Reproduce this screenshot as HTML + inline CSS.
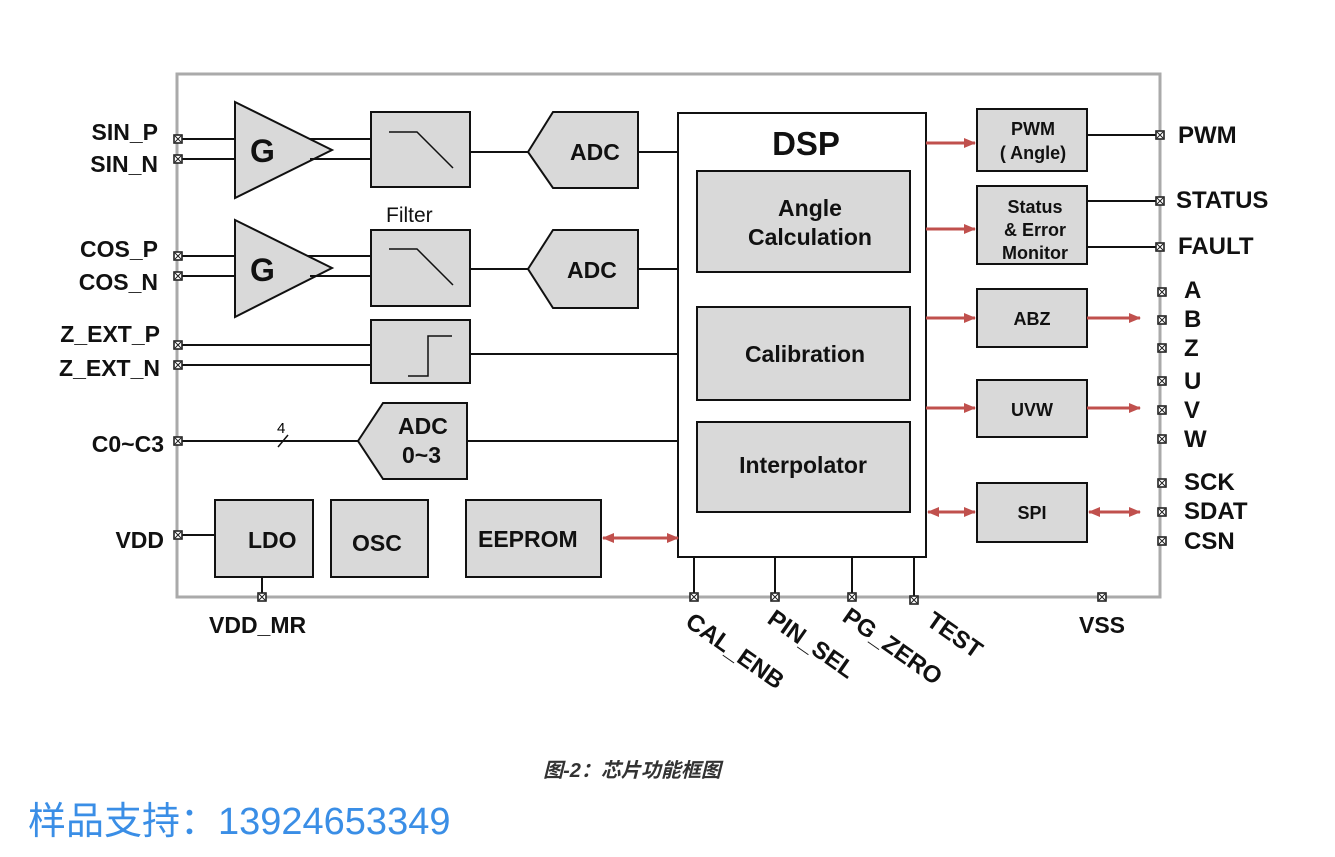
<!DOCTYPE html>
<html><head><meta charset="utf-8"><style>body{margin:0;background:#fff}svg{display:block}</style></head><body>
<svg width="1335" height="857" viewBox="0 0 1335 857" xmlns="http://www.w3.org/2000/svg" font-family="Liberation Sans, DejaVu Sans, sans-serif">
<defs>
<marker id="ar" markerWidth="12" markerHeight="10" refX="11" refY="5" orient="auto" markerUnits="userSpaceOnUse"><path d="M0,0 L12,5 L0,10 Z" fill="#c0504d"/></marker>
<marker id="al" markerWidth="12" markerHeight="10" refX="1" refY="5" orient="auto" markerUnits="userSpaceOnUse"><path d="M12,0 L0,5 L12,10 Z" fill="#c0504d"/></marker>
<g id="pin"><rect x="-4" y="-4" width="8" height="8" fill="#fff" stroke="#222" stroke-width="1.6"/><path d="M-3,-3L3,3M3,-3L-3,3" stroke="#222" stroke-width="1"/></g>
</defs>
<rect x="177" y="74" width="983" height="523" fill="none" stroke="#aaa" stroke-width="3"/>
<g stroke="#111" stroke-width="2" fill="none">
<path d="M178,139H371M178,159H371M178,256H371M178,276H371M178,345H371M178,365H371M470,152H528M638,152H678M470,269H528M638,269H678M470,354H678M178,441H358M467,441H678M178,535H215M262,577V597M694,557V597M775,557V597M852,557V597M914,557V600M1087,135H1160M1087,201H1160M1087,247H1160"/>
</g>
<path d="M278,447L288,435" stroke="#111" stroke-width="1.5"/>
<text x="277" y="433" font-size="15">4</text>
<g fill="#d9d9d9" stroke="#111" stroke-width="2">
<path d="M235,102L332,150L235,198Z"/>
<path d="M235,220L332,268L235,317Z"/>
<rect x="371" y="112" width="99" height="75"/>
<rect x="371" y="230" width="99" height="76"/>
<rect x="371" y="320" width="99" height="63"/>
<path d="M528,152L553,112H638V188H553Z"/>
<path d="M528,269L553,230H638V308H553Z"/>
<path d="M358,441L383,403H467V479H383Z"/>
<rect x="215" y="500" width="98" height="77"/>
<rect x="331" y="500" width="97" height="77"/>
<rect x="466" y="500" width="135" height="77"/>
</g>
<g stroke="#111" stroke-width="2"><path d="M310,139H371M310,159H371M310,256H371M310,276H371"/></g>
<g stroke="#111" stroke-width="1.5" fill="none">
<path d="M389,132H417L453,168M389,249H417L453,285M408,376H428V336H452"/>
</g>
<rect x="678" y="113" width="248" height="444" fill="#fff" stroke="#111" stroke-width="2"/>
<g fill="#d9d9d9" stroke="#111" stroke-width="2">
<rect x="697" y="171" width="213" height="101"/>
<rect x="697" y="307" width="213" height="93"/>
<rect x="697" y="422" width="213" height="90"/>
<rect x="977" y="109" width="110" height="62"/>
<rect x="977" y="186" width="110" height="78"/>
<rect x="977" y="289" width="110" height="58"/>
<rect x="977" y="380" width="110" height="57"/>
<rect x="977" y="483" width="110" height="59"/>
</g>
<g stroke="#c0504d" stroke-width="3">
<path d="M926,143H975" marker-end="url(#ar)"/>
<path d="M926,229H975" marker-end="url(#ar)"/>
<path d="M926,318H975" marker-end="url(#ar)"/>
<path d="M926,408H975" marker-end="url(#ar)"/>
<path d="M1087,318H1140" marker-end="url(#ar)"/>
<path d="M1087,408H1140" marker-end="url(#ar)"/>
<path d="M928,512H975" marker-end="url(#ar)" marker-start="url(#al)"/>
<path d="M1089,512H1140" marker-end="url(#ar)" marker-start="url(#al)"/>
<path d="M603,538H678" marker-end="url(#ar)" marker-start="url(#al)"/>
</g>
<g>
<use href="#pin" x="178" y="139"/><use href="#pin" x="178" y="159"/><use href="#pin" x="178" y="256"/><use href="#pin" x="178" y="276"/>
<use href="#pin" x="178" y="345"/><use href="#pin" x="178" y="365"/><use href="#pin" x="178" y="441"/><use href="#pin" x="178" y="535"/>
<use href="#pin" x="262" y="597"/><use href="#pin" x="694" y="597"/><use href="#pin" x="775" y="597"/><use href="#pin" x="852" y="597"/><use href="#pin" x="914" y="600"/><use href="#pin" x="1102" y="597"/>
<use href="#pin" x="1160" y="135"/><use href="#pin" x="1160" y="201"/><use href="#pin" x="1160" y="247"/>
<use href="#pin" x="1162" y="292"/><use href="#pin" x="1162" y="320"/><use href="#pin" x="1162" y="348"/>
<use href="#pin" x="1162" y="381"/><use href="#pin" x="1162" y="410"/><use href="#pin" x="1162" y="439"/>
<use href="#pin" x="1162" y="483"/><use href="#pin" x="1162" y="512"/><use href="#pin" x="1162" y="541"/>
</g>
<g font-weight="bold" fill="#111">
<text x="250" y="162" font-size="32">G</text><text x="250" y="281" font-size="32">G</text>
<text x="570" y="160" font-size="23">ADC</text><text x="567" y="278" font-size="23">ADC</text>
<text x="398" y="434" font-size="23">ADC</text><text x="402" y="463" font-size="23">0~3</text>
<text x="248" y="548" font-size="23">LDO</text><text x="352" y="551" font-size="23">OSC</text><text x="478" y="547" font-size="23">EEPROM</text>
<text x="806" y="155" font-size="33" text-anchor="middle">DSP</text>
<text x="810" y="216" font-size="23" text-anchor="middle">Angle</text><text x="810" y="245" font-size="23" text-anchor="middle">Calculation</text>
<text x="805" y="362" font-size="23" text-anchor="middle">Calibration</text>
<text x="803" y="473" font-size="23" text-anchor="middle">Interpolator</text>
<g font-size="18" text-anchor="middle" font-weight="600"><text x="1033" y="135">PWM</text><text x="1033" y="159">( Angle)</text>
<text x="1035" y="213">Status</text><text x="1035" y="236">&amp; Error</text><text x="1035" y="259">Monitor</text>
<text x="1032" y="325">ABZ</text><text x="1032" y="416">UVW</text><text x="1032" y="519">SPI</text></g>
<g font-size="23">
<text x="158" y="140" text-anchor="end">SIN_P</text><text x="158" y="172" text-anchor="end">SIN_N</text>
<text x="158" y="257" text-anchor="end">COS_P</text><text x="158" y="290" text-anchor="end">COS_N</text>
<text x="160" y="342" text-anchor="end">Z_EXT_P</text><text x="160" y="376" text-anchor="end">Z_EXT_N</text>
<text x="164" y="452" text-anchor="end">C0~C3</text><text x="164" y="548" text-anchor="end">VDD</text>
<text x="209" y="633">VDD_MR</text><text x="1079" y="633">VSS</text>
</g>
<g font-size="24">
<text x="1178" y="143">PWM</text><text x="1176" y="208">STATUS</text><text x="1178" y="254">FAULT</text>
<text x="1184" y="298">A</text><text x="1184" y="327">B</text><text x="1184" y="356">Z</text>
<text x="1184" y="389">U</text><text x="1184" y="418">V</text><text x="1184" y="447">W</text>
<text x="1184" y="490">SCK</text><text x="1184" y="519">SDAT</text><text x="1184" y="549">CSN</text>
<text transform="translate(684,625) rotate(35)">CAL_ENB</text>
<text transform="translate(766,622) rotate(35)">PIN_SEL</text>
<text transform="translate(841,620) rotate(35)">PG_ZERO</text>
<text transform="translate(925,624) rotate(35)">TEST</text>
</g>
</g>
<text x="386" y="222" font-size="21" fill="#111">Filter</text>
<text x="632" y="777" font-size="20" font-weight="bold" font-style="italic" fill="#333" text-anchor="middle" font-family="Liberation Sans, Noto Sans CJK SC, sans-serif">图-2：芯片功能框图</text>
<text x="28" y="834" font-size="38" fill="#3a8ee6" font-family="Liberation Sans, Noto Sans CJK SC, sans-serif">样品支持：13924653349</text>
</svg>
</body></html>
